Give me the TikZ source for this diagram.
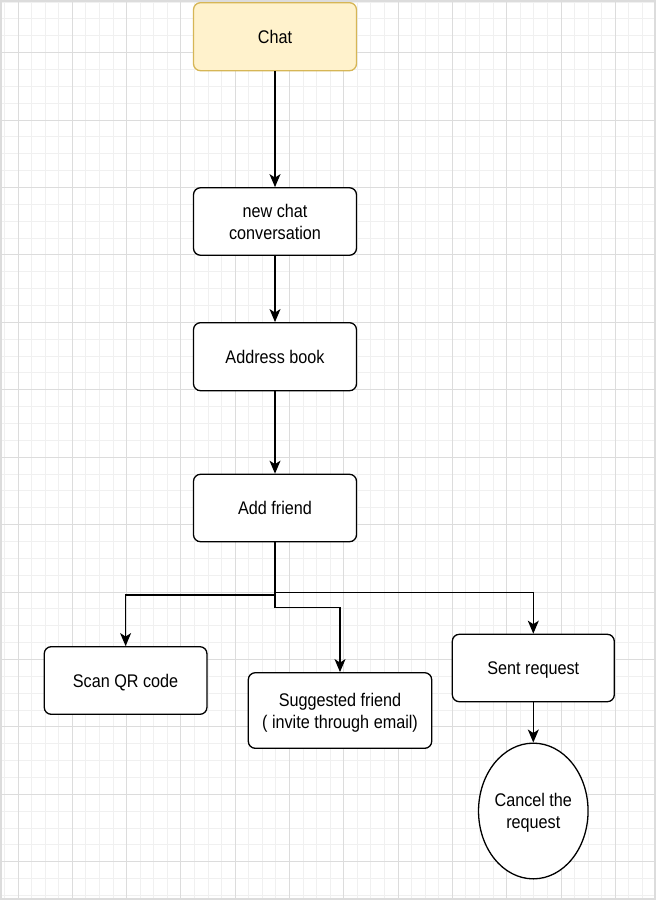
\documentclass[tikz,border=0pt]{standalone}
\usepackage{fontspec}
\setmainfont{Liberation Sans}
\usetikzlibrary{arrows.meta,shapes.geometric}
\definecolor{gridminor}{HTML}{F0F0F0}
\definecolor{gridmajor}{HTML}{DCDCDC}
\definecolor{chatfill}{HTML}{FFF2CC}
\definecolor{chatdraw}{HTML}{D6B656}
\newcommand{\lbl}[1]{\raisebox{-2.5pt}[\height][\depth]{\scalebox{1}[1.13]{\begin{tabular}{@{}c@{}}#1\end{tabular}}}}
\tikzset{
  box/.style={draw=black, line width=1.3pt, rounded corners=7pt, fill=white,
    minimum width=163pt, minimum height=68pt, inner sep=0pt,
    font=\fontsize{16.2}{19.4}\selectfont},
  chatbox/.style={box, fill=chatfill, draw=chatdraw},
  oval/.style={draw=black, line width=1.3pt, ellipse, fill=white, inner sep=0pt,
    minimum width=108.7pt, minimum height=135.7pt,
    font=\fontsize{16.2}{19.4}\selectfont},
  arr/.style={draw=black, line width=1.3pt, -{Stealth[length=13pt,width=11pt,inset=3.5pt]}}
}
\begin{document}
\begin{tikzpicture}[x=1pt,y=-1pt]
\useasboundingbox (0,0) rectangle (656,900);
\fill[white] (0,0) rectangle (656,900);
% minor grid
\foreach \i in {-1,...,46} {
  \pgfmathsetmacro{\xx}{18+13.575*\i}
  \draw[gridminor, line width=1pt] (\xx,0) -- (\xx,900);
}
\foreach \j in {0,...,53} {
  \pgfmathsetmacro{\yy}{2.1+16.855*\j}
  \draw[gridminor, line width=1pt] (0,\yy) -- (656,\yy);
}
% major grid
\foreach \i in {0,...,11} {
  \pgfmathsetmacro{\xx}{18+54.3*\i}
  \draw[gridmajor, line width=1pt] (\xx,0) -- (\xx,900);
}
\foreach \j in {0,...,12} {
  \pgfmathsetmacro{\yy}{52.7+67.42*\j}
  \draw[gridmajor, line width=1pt] (0,\yy) -- (656,\yy);
}
% border
\draw[gridmajor, line width=2.5pt] (1.2,1.2) rectangle (654.8,898.8);

% nodes
\node[chatbox] (chat) at (275,36.7) {\lbl{Chat}};
\node[box, minimum height=67.5pt] (newchat) at (275,221.5) {\lbl{new chat\\conversation}};
\node[box] (addr) at (275,356.7) {\lbl{Address book}};
\node[box, minimum height=67.4pt] (add) at (275,508) {\lbl{Add friend}};
\node[box, minimum width=162.7pt, minimum height=67.6pt] (scan) at (125.6,680.5) {\lbl{Scan QR code}};
\node[box, minimum width=183.4pt, minimum height=75.6pt] (sugg) at (340,710.5) {\lbl{Suggested friend\\( invite through email)}};
\node[box, minimum width=162pt, minimum height=67.4pt] (sent) at (533.3,668) {\lbl{Sent request}};
\node[oval] (cancel) at (533.3,811) {\lbl{Cancel the\\request}};

% junctions
\coordinate (jr) at (275,592.3);
\coordinate (jl) at (275,595);
\coordinate (jm) at (275,607.3);

% connectors
\draw[arr] (chat) -- (newchat);
\draw[arr] (newchat) -- (addr);
\draw[arr] (addr) -- (add);
\draw[arr] (add.south) -- (jr) -| (sent.north);
\draw[arr] (add.south) -- (jl) -| (scan.north);
\draw[arr] (add.south) -- (jm) -| (sugg.north);
\draw[arr] (sent) -- (cancel);
\end{tikzpicture}
\end{document}
